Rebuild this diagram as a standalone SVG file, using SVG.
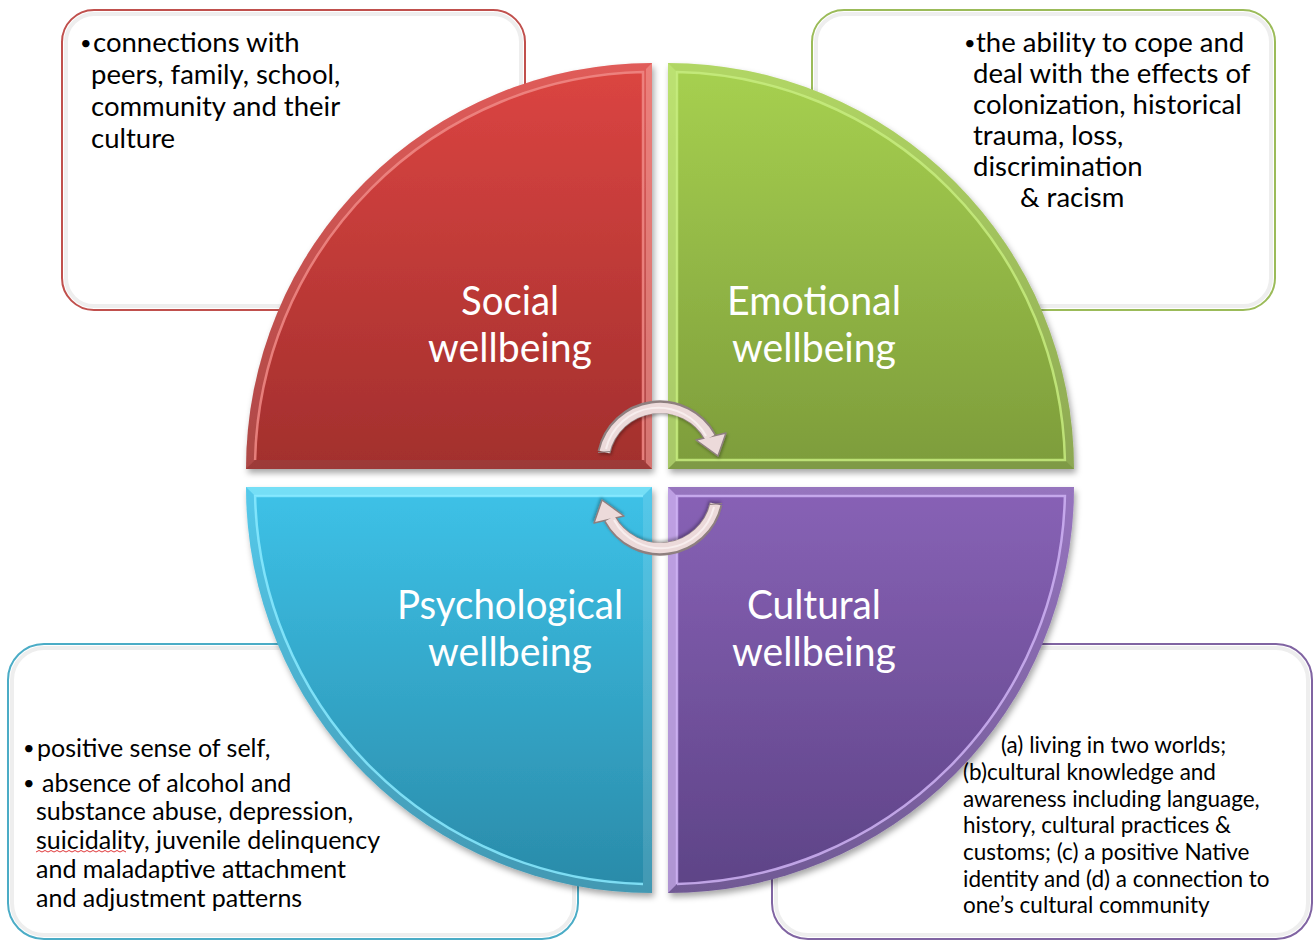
<svg xmlns="http://www.w3.org/2000/svg" width="1315" height="940" viewBox="0 0 1315 940">
  <defs>
    <style>
      .box { fill: #ffffff; stroke-width: 2; }
      .boxInner { fill: none; stroke: #eeeeee; stroke-width: 4; }
      .bt { font-family: Lato, "Open Sans", sans-serif; fill: #000000; }
      .t1 { font-size: 27.5px; }
      .t3 { font-size: 25px; }
      .t4 { font-size: 22.5px; }
      .bul { font-family: Lato, "Open Sans", sans-serif; fill: #000000; font-size: 20px; }
      .lab { font-family: Lato, "Open Sans", sans-serif; font-size: 40px; fill: #ffffff; text-anchor: middle; }
      .band { fill-rule: evenodd; fill: #ffffff; opacity: 0.12; }
      .hl { fill: none; stroke-width: 2.5; opacity: 0.85; }
      .arrOut { fill: none; stroke: #8e7f7f; stroke-width: 13; }
      .arrFill { fill: none; stroke: #ecdada; stroke-width: 10; }
      .arrLine { fill: none; stroke: #f8eeee; stroke-width: 2; }
      .head { fill: #ecdada; stroke: #8e7f7f; stroke-width: 1.5; stroke-linejoin: round; }
    </style>
    <linearGradient id="gRed" x1="0" y1="0" x2="0" y2="1">
      <stop offset="0" stop-color="#dc4542"/>
      <stop offset="1" stop-color="#a22f2d"/>
    </linearGradient>
    <linearGradient id="gGreen" x1="0" y1="0" x2="0" y2="1">
      <stop offset="0" stop-color="#a7d150"/>
      <stop offset="1" stop-color="#7d9c3b"/>
    </linearGradient>
    <linearGradient id="gBlue" x1="0" y1="0" x2="0" y2="1">
      <stop offset="0" stop-color="#3dc2e8"/>
      <stop offset="1" stop-color="#2a8aa8"/>
    </linearGradient>
    <linearGradient id="gPurple" x1="0" y1="0" x2="0" y2="1">
      <stop offset="0" stop-color="#8862b6"/>
      <stop offset="1" stop-color="#5d4386"/>
    </linearGradient>
    <filter id="shadow" x="-10%" y="-10%" width="125%" height="125%">
      <feDropShadow dx="2" dy="4" stdDeviation="3" flood-color="#000000" flood-opacity="0.35"/>
    </filter>
    <filter id="arrShadow" x="-20%" y="-20%" width="140%" height="140%">
      <feDropShadow dx="1" dy="2" stdDeviation="1.5" flood-color="#000000" flood-opacity="0.3"/>
    </filter>
  </defs>

  <rect x="0" y="0" width="1315" height="940" fill="#ffffff"/>

  <!-- text boxes -->
  <g id="box-social">
    <rect class="box" x="62" y="10" width="463" height="300" rx="32" stroke="#c0504d"/>
    <rect class="boxInner" x="66" y="14" width="455" height="292" rx="28"/>
    <text class="bul" x="80" y="50">•</text>
    <text class="bt t1" x="93" y="52">connections with</text>
    <text class="bt t1" x="91" y="84">peers, family, school,</text>
    <text class="bt t1" x="91" y="116">community and their</text>
    <text class="bt t1" x="91" y="148">culture</text>
  </g>

  <g id="box-emotional">
    <rect class="box" x="812" y="10" width="463" height="300" rx="32" stroke="#9bbb59"/>
    <rect class="boxInner" x="816" y="14" width="455" height="292" rx="28"/>
    <text class="bul" x="964" y="50">•</text>
    <text class="bt t1" x="976" y="52">the ability to cope and</text>
    <text class="bt t1" x="973" y="83">deal with the effects of</text>
    <text class="bt t1" x="973" y="114">colonization, historical</text>
    <text class="bt t1" x="973" y="145">trauma, loss,</text>
    <text class="bt t1" x="973" y="176">discrimination</text>
    <text class="bt t1" x="1020" y="207">&amp; racism</text>
  </g>

  <g id="box-psychological">
    <rect class="box" x="8" y="644" width="570" height="295" rx="36" stroke="#4bacc6"/>
    <rect class="boxInner" x="12" y="648" width="562" height="287" rx="32"/>
    <text class="bul" x="23" y="755">•</text>
    <text class="bt t3" x="37" y="757">positive sense of self,</text>
    <text class="bul" x="23" y="790">•</text>
    <text class="bt t3" x="42" y="792">absence of alcohol and</text>
    <text class="bt t3" x="36" y="820">substance abuse, depression,</text>
    <text class="bt t3" x="36" y="849">suicidality, juvenile delinquency</text>
    <text class="bt t3" x="36" y="878">and maladaptive attachment</text>
    <text class="bt t3" x="36" y="907">and adjustment patterns</text>
    <path d="M36,852 l3,-1.5 3,1.5 3,-1.5 3,1.5 3,-1.5 3,1.5 3,-1.5 3,1.5 3,-1.5 3,1.5 3,-1.5 3,1.5 3,-1.5 3,1.5 3,-1.5 3,1.5 3,-1.5 3,1.5 3,-1.5 3,1.5 3,-1.5 3,1.5 3,-1.5 3,1.5 3,-1.5 3,1.5 3,-1.5 3,1.5 3,-1.5 3,1.5" fill="none" stroke="#e0383a" stroke-width="1"/>
  </g>

  <g id="box-cultural">
    <rect class="box" x="772" y="644" width="540" height="295" rx="36" stroke="#8064a2"/>
    <rect class="boxInner" x="776" y="648" width="532" height="287" rx="32"/>
    <text class="bt t4" x="1001" y="753">(a) living in two worlds;</text>
    <text class="bt t4" x="963" y="780">(b)cultural knowledge and</text>
    <text class="bt t4" x="963" y="807">awareness including language,</text>
    <text class="bt t4" x="963" y="833">history, cultural practices &amp;</text>
    <text class="bt t4" x="963" y="860">customs; (c) a positive Native</text>
    <text class="bt t4" x="963" y="887">identity and (d) a connection to</text>
    <text class="bt t4" x="963" y="913">one’s cultural community</text>
  </g>

  <!-- quadrants -->
  <g id="node-social">
    <path d="M652,469 L246,469 A406,406 0 0 1 652,63 Z" fill="url(#gRed)" filter="url(#shadow)"/>
    <path class="band" d="M652,469 L246,469 A406,406 0 0 1 652,63 Z M643,460 L255.1,460 A397,397 0 0 1 643,72.1 Z"/>
    <path d="M646,463 L646,69 L652,63 L652,469 Z" fill="#f59a95" opacity="0.55"/>
    <path d="M246,469 L652,469 L643,460 L255.1,460 Z" fill="#7e2220" opacity="0.35"/>
    <path class="hl" stroke="#f08a86" d="M255.1,460 A397,397 0 0 1 643,72.1 L643,460"/>
    <text class="lab" x="510" y="315" textLength="98" lengthAdjust="spacingAndGlyphs">Social</text>
    <text class="lab" x="510" y="362" textLength="164" lengthAdjust="spacingAndGlyphs">wellbeing</text>
  </g>

  <g id="node-emotional">
    <path d="M668,469 L668,63 A406,406 0 0 1 1074,469 Z" fill="url(#gGreen)" filter="url(#shadow)"/>
    <path class="band" d="M668,469 L668,63 A406,406 0 0 1 1074,469 Z M677,460 L677,72.1 A397,397 0 0 1 1064.9,460 Z"/>
    <path d="M668,63 L677,72.1 L677,460 L668,469 Z" fill="#c9ef80" opacity="0.45"/>
    <path d="M668,469 L1074,469 L1064.9,460 L677,460 Z" fill="#5f7a28" opacity="0.3"/>
    <path class="hl" stroke="#c7ec7f" d="M677,460 L677,72.1 A397,397 0 0 1 1064.9,460 Z"/>
    <text class="lab" x="814" y="315" textLength="174" lengthAdjust="spacingAndGlyphs">Emotional</text>
    <text class="lab" x="814" y="362" textLength="164" lengthAdjust="spacingAndGlyphs">wellbeing</text>
  </g>

  <g id="node-psychological">
    <path d="M652,487 L652,893 A406,406 0 0 1 246,487 Z" fill="url(#gBlue)" filter="url(#shadow)"/>
    <path class="band" d="M652,487 L652,893 A406,406 0 0 1 246,487 Z M643,496 L643,883.9 A397,397 0 0 1 255.1,496 Z"/>
    <path d="M246,487 L652,487 L643,496 L255.1,496 Z" fill="#8ff0ff" opacity="0.55"/>
    <path class="hl" stroke="#8aeaff" d="M643,883.9 A397,397 0 0 1 255.1,496 L643,496"/>
    <text class="lab" x="510" y="619" textLength="226" lengthAdjust="spacingAndGlyphs">Psychological</text>
    <text class="lab" x="510" y="666" textLength="164" lengthAdjust="spacingAndGlyphs">wellbeing</text>
  </g>

  <g id="node-cultural">
    <path d="M668,487 L1074,487 A406,406 0 0 1 668,893 Z" fill="url(#gPurple)" filter="url(#shadow)"/>
    <path class="band" d="M668,487 L1074,487 A406,406 0 0 1 668,893 Z M677,496 L1064.9,496 A397,397 0 0 1 677,883.9 Z"/>
    <path d="M668,487 L677,496 L677,883.9 L668,893 Z" fill="#d9bdfb" opacity="0.6"/>
    <path class="hl" stroke="#cfb3f5" d="M677,883.9 L677,496 L1064.9,496 A397,397 0 0 1 677,883.9"/>
    <text class="lab" x="814" y="619" textLength="134" lengthAdjust="spacingAndGlyphs">Cultural</text>
    <text class="lab" x="814" y="666" textLength="164" lengthAdjust="spacingAndGlyphs">wellbeing</text>
  </g>

  <!-- connectors: circular arrows -->
  <g id="connectors">
    <g id="arrow-top" filter="url(#arrShadow)">
      <path class="arrOut" d="M604,452 A57,57 0 0 1 710,437"/>
      <polygon class="head" points="696,440 726,433 718,456"/>
      <path class="arrFill" d="M604.5,452 A57,57 0 0 1 710,437.5"/>
      <path class="arrLine" d="M606,449 A54,54 0 0 1 706,436"/>
      <path d="M598,452.5 L610,451.5" stroke="#8e7f7f" stroke-width="1.2"/>
    </g>
    <g id="arrow-bottom" filter="url(#arrShadow)" transform="rotate(180 660 478)">
      <path class="arrOut" d="M604,452 A57,57 0 0 1 710,437"/>
      <polygon class="head" points="696,440 726,433 718,456"/>
      <path class="arrFill" d="M604.5,452 A57,57 0 0 1 710,437.5"/>
      <path class="arrLine" d="M606,449 A54,54 0 0 1 706,436"/>
      <path d="M598,452.5 L610,451.5" stroke="#8e7f7f" stroke-width="1.2"/>
    </g>
  </g>
</svg>
